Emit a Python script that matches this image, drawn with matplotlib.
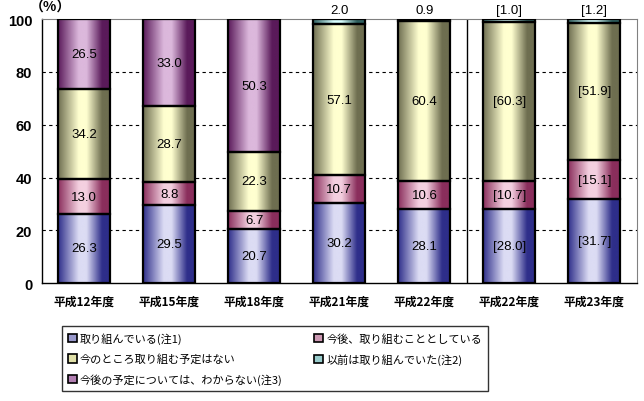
import numpy as np
import matplotlib.pyplot as plt
from matplotlib.colors import LinearSegmentedColormap
from matplotlib.patches import Patch

plt.rcParams['font.family'] = ['Noto Sans CJK JP', 'DejaVu Sans']

categories = ['平成12年度', '平成15年度', '平成18年度', '平成21年度',
              '平成22年度', '平成22年度', '平成23年度']
doing = [26.3, 29.5, 20.7, 30.2, 28.1, 28.0, 31.7]
planning = [13.0, 8.8, 6.7, 10.7, 10.6, 10.7, 15.1]
no_plan = [34.2, 28.7, 22.3, 57.1, 60.4, 60.3, 51.9]
used_to = [0, 0, 0, 2.0, 0.9, 1.0, 1.2]
unknown = [26.5, 33.0, 50.3, 0, 0, 0, 0]
bracketed = [False, False, False, False, False, True, True]

names = ['取り組んでいる(注1)', '今後、取り組むこととしている',
         '今のところ取り組む予定はない', '以前は取り組んでいた(注2)',
         '今後の予定については、わからない(注3)']
series = [doing, planning, no_plan, used_to, unknown]
# (edge shade, centre highlight, swatch colour)
shades = [('#2e2e8a', '#dcdcf4', '#9999cc'),
          ('#8a2e5c', '#f4d0e0', '#cc99b3'),
          ('#6e6e50', '#ffffd0', '#e0e0a8'),
          ('#2e6060', '#d8ffff', '#99cccc'),
          ('#5a1a5a', '#dcb8dc', '#b380b3')]

fig = plt.figure(figsize=(6.44, 4.02), dpi=100)
ax = fig.add_axes([0.065, 0.293, 0.924, 0.657])

x = np.arange(len(categories))
grad = np.linspace(0, 1, 256).reshape(1, -1)
bottom = np.zeros(len(categories))

for k, (vals, (dark, light, _)) in enumerate(zip(series, shades)):
    vals = np.array(vals, dtype=float)
    cmap = LinearSegmentedColormap.from_list(
        'g%d' % k, [(0, dark), (0.4, light), (0.55, light), (0.85, dark), (1, dark)])
    bars = ax.bar(x, vals, width=0.61, bottom=bottom, facecolor='none',
                  edgecolor='black', lw=1.6, zorder=3)
    for i, (b, v) in enumerate(zip(bars, vals)):
        if v <= 0:
            b.set_visible(False)
            continue
        x0, y0 = b.get_x(), b.get_y()
        im = ax.imshow(grad, cmap=cmap, aspect='auto', interpolation='bicubic',
                       extent=(x0, x0 + b.get_width(), y0, y0 + v), zorder=2)
        im.set_clip_path(b)
        txt = '%.1f' % v
        if bracketed[i]:
            txt = '[%s]' % txt
        if k == 3:
            ax.annotate(txt, (x[i], 100), xytext=(0, 2), textcoords='offset points',
                        ha='center', va='bottom', fontsize=9.5,
                        family='Liberation Sans', annotation_clip=False)
        else:
            ax.text(x[i], y0 + v / 2, txt, ha='center', va='center', fontsize=9.5,
                    family='Liberation Sans', zorder=4)
    bottom += vals

ax.set_xlim(-0.5, len(categories) - 0.5)
ax.set_ylim(0, 100)
ax.set_yticks(range(0, 101, 20))
ax.set_xticks(x)
ax.set_xticklabels(categories, fontsize=8.5, fontweight='bold')
for lbl in ax.get_yticklabels():
    lbl.set_family('Liberation Sans')
    lbl.set_fontweight('bold')
    lbl.set_fontsize(10.5)
ax.tick_params(axis='x', length=0, pad=8)
ax.tick_params(axis='y', length=0, pad=7)

for yv in (20, 40, 60, 80):
    ax.axhline(yv, color='black', lw=0.8, ls=(0, (3, 3)), zorder=1)
ax.axvline(4.5, color='black', lw=1, zorder=1)

ax.spines['top'].set_color('#808080')
ax.spines['right'].set_color('#808080')
ax.spines['left'].set_linewidth(1)
ax.spines['bottom'].set_linewidth(1)

fig.text(50 / 644, 1 - 8 / 402, '（%）', ha='center', va='center',
         fontsize=10, fontweight='bold')

handles = [Patch(facecolor=s[2], edgecolor='black', lw=1.2) for s in shades]
order = [0, 2, 4, 1, 3]
leg = fig.legend([handles[i] for i in order], [names[i] for i in order], ncol=2,
                 loc='upper left', bbox_to_anchor=(62 / 644, 1 - 327 / 402, 426 / 644, 0),
                 mode='expand', fontsize=8, frameon=True, fancybox=False,
                 edgecolor='black', borderaxespad=0, handlelength=0.8,
                 handleheight=0.8, handletextpad=0.25, labelspacing=0.85,
                 borderpad=0.55)
leg.get_frame().set_linewidth(1)

fig.savefig('out.png', dpi=100)
